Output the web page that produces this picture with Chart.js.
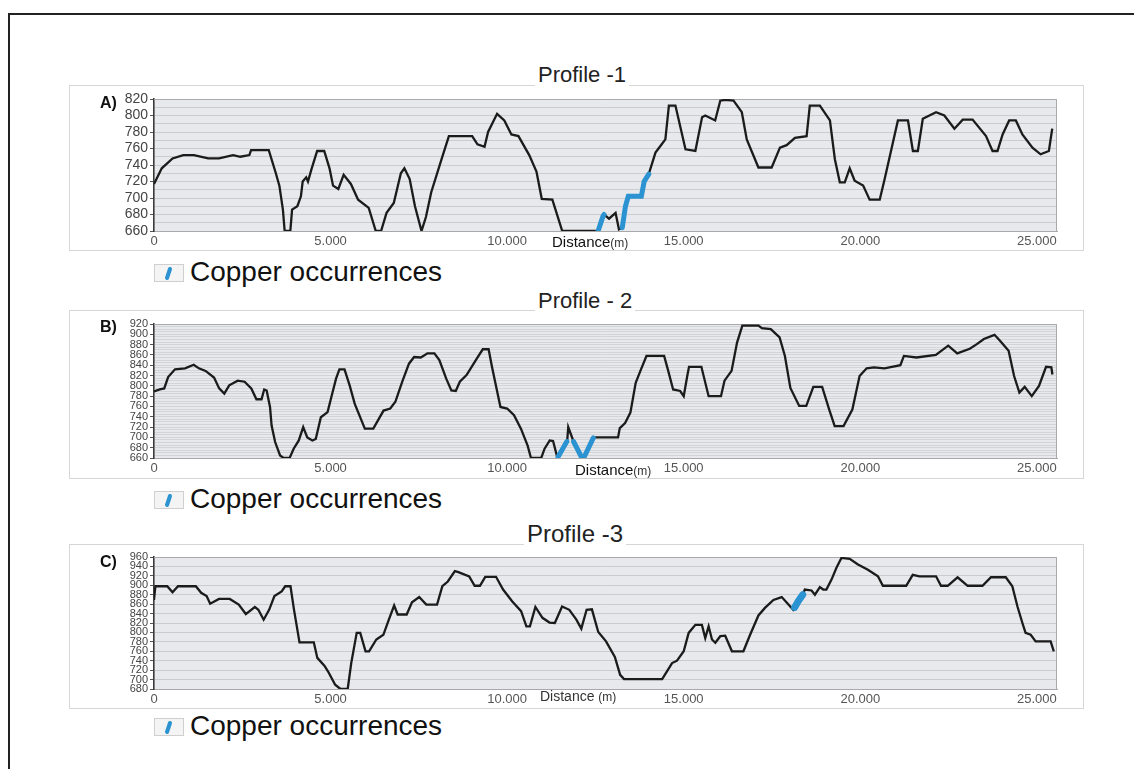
<!DOCTYPE html>
<html>
<head>
<meta charset="utf-8">
<script src="https://cdn.jsdelivr.net/npm/chart.js@4.4.0/dist/chart.umd.min.js"></script>
<style>
  body { margin: 0; background: #fff; width: 1134px; height: 769px; overflow: hidden; position: relative;
         font-family: "Liberation Sans", Arial, sans-serif; }
  .frame { position: absolute; left: 8px; top: 13px; width: 1300px; height: 900px;
           border-left: 2px solid #222; border-top: 2px solid #222; }
  .box { position: absolute; left: 69px; width: 1013px; border: 1px solid #d6d6d6; }
  canvas { position: absolute; left: 69px; }
  .title { position: absolute; color: #222; background: #fff; padding: 0 3px; white-space: nowrap; }
  .tag { position: absolute; left: 100px; font-weight: bold; font-size: 16px; color: #111; }
  .dist { position: absolute; font-size: 15px; color: #111; white-space: nowrap; }
  .dist small { font-size: 12px; color: #333; }
  .legend { position: absolute; left: 154px; font-size: 28px; color: #111; white-space: nowrap; height: 30px; line-height: 30px; }
  .legend svg { vertical-align: -1px; margin-right: 6px; }
</style>
</head>
<body>
<div class="frame"></div>

<div class="box" style="top:85px;height:164px"></div>
<div class="box" style="top:310px;height:167px"></div>
<div class="box" style="top:544px;height:163px"></div>

<canvas id="chartA" width="1015" height="165" style="top:85px"></canvas>
<canvas id="chartB" width="1015" height="168" style="top:310px"></canvas>
<canvas id="chartC" width="1015" height="164" style="top:544px"></canvas>

<div class="title" style="left:535px;top:62px;font-size:22px">Profile -1</div>
<div class="title" style="left:535px;top:288px;font-size:22px">Profile - 2</div>
<div class="title" style="left:524px;top:520px;font-size:24px">Profile -3</div>

<div class="tag" style="top:94px">A)</div>
<div class="tag" style="top:318px">B)</div>
<div class="tag" style="top:553px">C)</div>

<div class="dist" style="left:552px;top:233px">Distance<small>(m)</small></div>
<div class="dist" style="left:575px;top:461px">Distance<small>(m)</small></div>
<div class="dist" style="left:540px;top:688px;color:#333;font-size:14px">Distance <small>(m)</small></div>

<div class="legend" style="top:257px"><svg width="30" height="18"><rect x="0.5" y="0.5" width="29" height="17" fill="#f4f4f4" stroke="#cfcfcf"/><path d="M13 14 L16 5" stroke="#2b93d1" stroke-width="4" stroke-linecap="round"/></svg>Copper occurrences</div>
<div class="legend" style="top:484px"><svg width="30" height="18"><rect x="0.5" y="0.5" width="29" height="17" fill="#f4f4f4" stroke="#cfcfcf"/><path d="M13 14 L16 5" stroke="#2b93d1" stroke-width="4" stroke-linecap="round"/></svg>Copper occurrences</div>
<div class="legend" style="top:711px"><svg width="30" height="18"><rect x="0.5" y="0.5" width="29" height="17" fill="#f4f4f4" stroke="#cfcfcf"/><path d="M13 14 L16 5" stroke="#2b93d1" stroke-width="4" stroke-linecap="round"/></svg>Copper occurrences</div>

<script>
// distance (m), elevation (m)
const profileA = [[0,717],[220,736],[525,748],[830,752],[1130,752],[1535,748],[1840,748],[2240,752],[2445,750],[2700,752],
  [2750,758],[3200,758],[3250,758],[3450,730],[3550,715],[3650,686],[3700,660],[3860,660],[3910,686],[4060,690],
  [4160,702],[4210,720],[4310,725],[4360,720],[4460,735],[4620,757],[4820,757],[4970,736],[5070,715],[5220,711],
  [5370,728],[5575,717],[5780,698],[6080,688],[6280,660],[6430,660],[6585,682],[6790,694],[6990,730],[7090,736],
  [7240,723],[7390,690],[7575,660],[7700,677],[7850,707],[8150,748],[8350,775],[9010,775],[9160,765],[9360,762],
  [9460,780],[9715,802],[9920,794],[10120,777],[10320,775],[10625,752],[10830,732],[10980,699],[11280,698],[11560,660],
  [12575,660],[12715,678],[12744,680],[12885,675],[13070,682],[13165,662],[13260,664],[13350,690],[13430,702],[13800,702],
  [13880,720],[14010,729],[14200,755],[14340,763],[14480,771],[14580,812],[14765,812],[15050,759],[15330,757],[15520,798],
  [15610,800],[15890,794],[16035,818],[16175,819],[16410,818],[16645,804],[16785,771],[17115,737],[17490,737],[17725,761],
  [17915,764],[18150,773],[18480,775],[18570,812],[18855,812],[19140,794],[19280,747],[19420,719],[19560,719],[19700,736],
  [19840,721],[20080,715],[20265,698],[20550,698],[20690,723],[21065,794],[21350,794],[21490,757],[21630,757],[21770,796],
  [22145,804],[22380,800],[22665,784],[22900,795],[23180,795],[23560,775],[23745,757],[23885,757],[24030,777],[24215,794],
  [24405,794],[24590,777],[24875,761],[25105,753],[25340,757],[25435,784]];
const copperA = [[12575,660],[12715,678],[12744,680],[12760,null],[13260,664],[13350,690],[13430,702],[13800,702],[13880,720],[14010,729]];

const profileB = [[0,789],[163,793],[290,795],[400,817],[595,832],[880,834],[1125,841],[1270,834],[1460,829],[1700,816],
  [1845,795],[1990,785],[2130,801],[2370,810],[2565,808],[2755,795],[2900,774],[3045,774],[3120,793],[3190,791],
  [3285,759],[3330,723],[3430,691],[3570,665],[3670,660],[3840,660],[3955,678],[4100,694],[4225,720],[4340,700],
  [4485,694],[4580,697],[4725,739],[4915,749],[5010,775],[5155,814],[5250,832],[5395,832],[5540,801],[5685,765],
  [5970,717],[6210,717],[6500,752],[6690,756],[6835,769],[7030,808],[7220,843],[7365,856],[7555,855],[7745,863],
  [7940,863],[8080,850],[8275,814],[8420,791],[8545,790],[8660,808],[8850,821],[9140,853],[9310,871],[9475,871],
  [9570,837],[9810,759],[10000,756],[10195,743],[10390,717],[10580,684],[10675,660],[10965,660],[11060,678],[11205,694],
  [11300,693],[11425,660],[11700,693],[11730,720],[11875,693],[12115,660],[12165,660],[12440,700],[13140,700],[13190,718],
  [13340,728],[13490,748],[13640,806],[13790,832],[13945,858],[14445,858],[14550,832],[14700,793],[14900,790],[15000,780],
  [15100,819],[15150,837],[15500,837],[15705,780],[16055,780],[16155,810],[16355,829],[16510,884],[16660,917],[17115,917],
  [17215,912],[17465,910],[17715,894],[17865,858],[18020,796],[18270,761],[18470,761],[18670,798],[18920,798],[19120,754],
  [19275,722],[19525,722],[19775,754],[19980,819],[20180,834],[20385,836],[20685,834],[21135,840],[21235,858],[21590,855],
  [22140,860],[22490,878],[22745,863],[23100,872],[23300,881],[23500,891],[23800,899],[23950,888],[24200,868],[24355,819],
  [24505,787],[24655,798],[24855,780],[25060,800],[25260,837],[25410,836],[25440,822]];
const copperB = [[11440,662],[11690,692],[11760,null],[11880,692],[12110,661],[12140,null],[12175,661],[12440,699]];

const profileC = [[0,869],[40,898],[375,898],[525,885],[680,898],[1185,898],[1335,884],[1490,877],[1590,861],[1840,871],
  [2145,871],[2400,859],[2600,839],[2855,854],[2955,848],[3105,827],[3260,848],[3410,877],[3615,887],[3715,898],
  [3865,898],[3965,848],[4120,779],[4525,779],[4625,746],[4830,729],[4930,717],[5130,689],[5280,680],[5485,680],
  [5585,735],[5740,799],[5840,799],[5990,760],[6090,760],[6295,785],[6495,795],[6650,827],[6800,857],[6900,838],
  [7155,838],[7305,864],[7510,875],[7710,859],[8015,859],[8165,898],[8320,908],[8520,930],[8620,928],[8925,919],
  [9080,899],[9230,899],[9380,918],[9685,918],[9885,891],[10140,866],[10395,845],[10545,813],[10645,813],[10800,854],
  [11000,831],[11200,821],[11350,820],[11555,855],[11760,848],[11960,827],[12100,808],[12250,848],[12400,849],[12580,801],
  [12800,781],[13050,748],[13200,710],[13310,701],[14390,701],[14670,735],[14810,740],[15000,760],[15140,799],[15330,816],
  [15515,816],[15610,788],[15705,813],[15800,785],[15895,778],[16035,792],[16175,793],[16365,760],[16690,760],[16880,795],
  [17115,836],[17300,852],[17540,869],[17775,875],[18100,848],[18200,862],[18380,882],[18430,891],[18620,889],[18715,880],
  [18855,896],[18950,891],[19040,891],[19185,912],[19325,937],[19465,958],[19700,956],[19935,944],[20215,933],[20500,919],
  [20640,899],[21300,899],[21485,922],[21675,919],[22145,919],[22285,899],[22475,899],[22755,917],[23040,899],[23460,899],
  [23700,917],[24120,917],[24305,898],[24450,855],[24590,820],[24680,799],[24825,795],[24965,781],[25390,781],[25480,760]];
const copperC = [[18140,853],[18240,866],[18370,880]];

// axis ranges: [min, max, grid step]
const yRangeA = [660, 820, 10];
const yRangeB = [660, 920, 5];
const yRangeC = [680, 960, 20];
const xMax = 25570;
const xTicks = [0, 5000, 10000, 15000, 20000, 25000];

const plotBg = {
  id: 'plotBg',
  beforeDraw(chart) {
    const {ctx, chartArea: a} = chart;
    ctx.save();
    ctx.fillStyle = '#e8e9ec';
    ctx.fillRect(a.left, a.top, a.right - a.left, a.bottom - a.top);
    ctx.restore();
  },
  beforeDatasetsDraw(chart) {
    const {ctx, chartArea: a} = chart;
    ctx.save();
    ctx.strokeStyle = '#a9a9ab';
    ctx.lineWidth = 1;
    ctx.beginPath();
    ctx.moveTo(a.left, a.top + 0.5);
    ctx.lineTo(a.right - 0.5, a.top + 0.5);
    ctx.lineTo(a.right - 0.5, a.bottom);
    ctx.stroke();
    ctx.restore();
  }
};

function pts(arr) {
  return arr.map(p => ({x: p[0], y: p[1]}));
}

function drawProfile(id, profile, copper, yRange, geo) {
  new Chart(document.getElementById(id), {
    type: 'line',
    data: {
      datasets: [
        {
          label: 'Copper occurrences',
          data: pts(copper),
          borderColor: '#2b93d1',
          borderWidth: geo.cuWidth,
          borderCapStyle: 'round',
          pointRadius: 0,
          spanGaps: false,
          order: 0
        },
        {
          label: 'Profile',
          data: pts(profile),
          borderColor: '#1b1b1b',
          borderWidth: 2.3,
          pointRadius: 0,
          tension: 0,
          order: 1
        }
      ]
    },
    options: {
      responsive: false,
      animation: false,
      layout: { padding: { left: 0, top: geo.top, right: 27, bottom: 0 } },
      plugins: { legend: { display: false }, tooltip: { enabled: false } },
      scales: {
        x: {
          type: 'linear',
          min: 0,
          max: xMax,
          afterFit: s => { s.height = geo.xh; },
          afterBuildTicks: s => { s.ticks = xTicks.map(v => ({ value: v })); },
          grid: { display: false, drawTicks: false },
          border: { display: true, color: '#a9a9ab' },
          ticks: {
            maxRotation: 0,
            autoSkip: false,
            padding: 3,
            color: '#555',
            font: { family: 'Liberation Sans', size: 13 },
            callback: v => v === 0 ? '0' : (v / 1000).toFixed(3)
          }
        },
        y: {
          min: yRange[0],
          max: yRange[1],
          afterFit: s => { s.width = 85; },
          border: { display: true, color: '#3a3a3a', width: 1.6 },
          grid: {
            color: geo.gridColor,
            lineWidth: 1,
            drawTicks: true,
            tickLength: 4,
            tickColor: ctx => (ctx.tick && ctx.tick.value % 20 === 0) ? '#555' : 'rgba(0,0,0,0)'
          },
          ticks: {
            stepSize: yRange[2],
            autoSkip: false,
            padding: 2,
            color: '#444',
            font: { family: 'Liberation Sans', size: geo.yFont, lineHeight: 1 },
            callback: v => v % 20 === 0 ? String(v) : ''
          }
        }
      }
    },
    plugins: [plotBg]
  });
}

drawProfile('chartA', profileA, copperA, yRangeA, { top: 14, xh: 19, yFont: 14, gridColor: '#cbccd0', cuWidth: 5 });
drawProfile('chartB', profileB, copperB, yRangeB, { top: 14, xh: 20, yFont: 11, gridColor: '#d3d4d7', cuWidth: 5 });
drawProfile('chartC', profileC, copperC, yRangeC, { top: 13, xh: 19, yFont: 11, gridColor: '#cbccd0', cuWidth: 7 });
</script>
</body>
</html>
